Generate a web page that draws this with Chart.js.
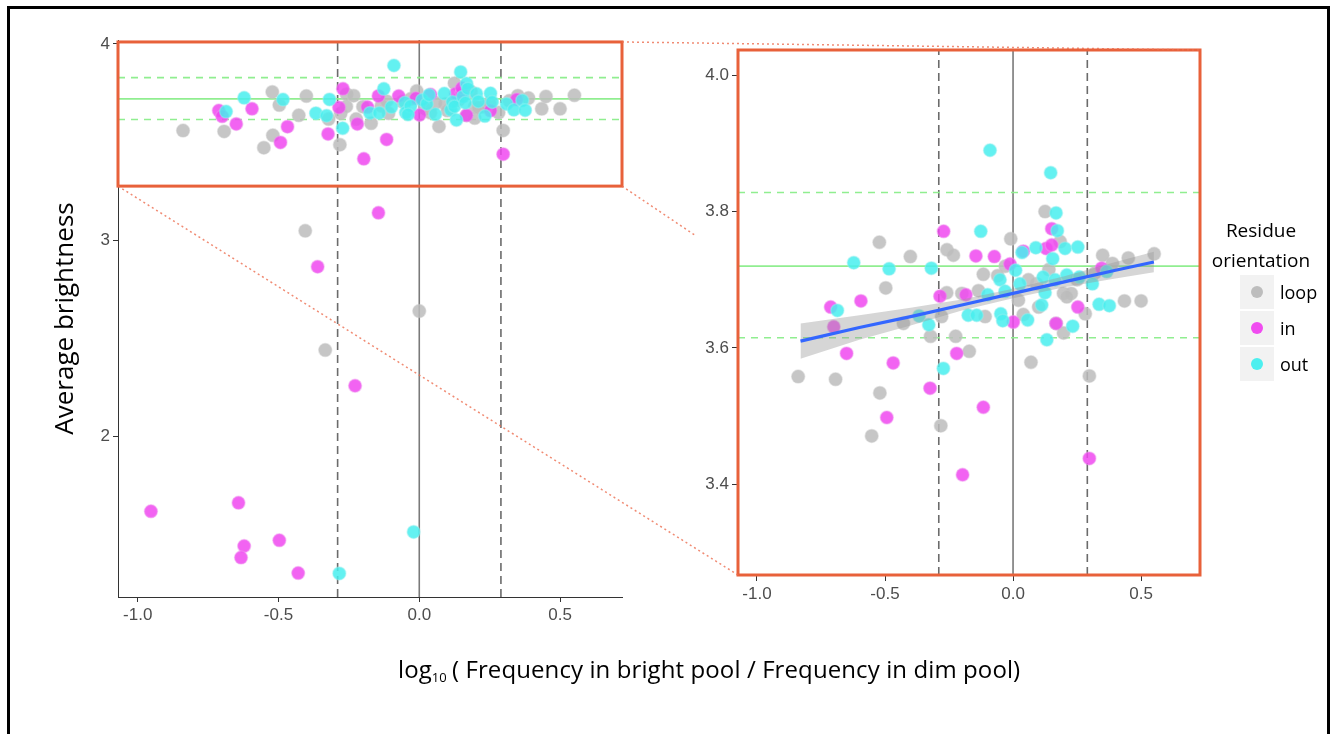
<!DOCTYPE html>
<html>
<head>
<meta charset="utf-8">
<script src="https://cdn.jsdelivr.net/npm/chart.js@4.4.0/dist/chart.umd.min.js"></script>
<style>
  html, body { margin: 0; padding: 0; background: #fff; }
  body { width: 1336px; height: 734px; position: relative; overflow: hidden; font-family: 'Open Sans', sans-serif; }
  .frame { position: absolute; left: 7px; top: 6px; width: 1317px; height: 780px; border: 3px solid #000; }
  #left-wrap { position: absolute; left: 50px; top: 0; }
  #right-wrap { position: absolute; left: 690px; top: 0; }
  #overlay { position: absolute; left: 0; top: 0; pointer-events: none; }
  .x-title { position: absolute; left: 398px; top: 652px; font-size: 24px; letter-spacing: 0.1px; color: #000; white-space: nowrap; }
  .x-title sub { font-size: 13px; vertical-align: -4px; margin-right: 5px; }
  .legend { position: absolute; left: 1204px; top: 215px; width: 114px; }
  .lg-title { text-align: center; font-size: 19px; line-height: 30px; color: #000; }
  .lg-row { display: flex; align-items: center; height: 34px; margin-left: 36px; margin-bottom: 2px; font-size: 18px; color: #000; }
  .lg-key { width: 34px; height: 34px; background: #f2f2f2; display: flex; align-items: center; justify-content: center; margin-right: 6px; }
  .lg-key i { width: 12px; height: 12px; border-radius: 50%; display: block; }
</style>
</head>
<body>
<div class="frame"></div>
<div id="left-wrap"><canvas id="leftChart" width="580" height="627"></canvas></div>
<div id="right-wrap"><canvas id="rightChart" width="520" height="605"></canvas></div>
<canvas id="overlay" width="1336" height="734"></canvas>
<div class="x-title">log<sub>10</sub>( Frequency in bright pool / Frequency in dim pool)</div>
<div class="legend" id="legend"><div class="lg-title">Residue<br>orientation</div></div>

<script>
/* Categories + colours */
const categories = ['loop', 'in', 'out'];
const pointFill = ['rgba(188,188,188,0.85)', 'rgba(240,72,240,0.85)', 'rgba(72,238,238,0.85)'];
const pointHalo = ['rgba(200,200,200,0.45)', 'rgba(240,150,240,0.45)', 'rgba(150,240,240,0.45)'];
const legendDot = ['#bdbdbd', '#f04cf0', '#4cefef'];

/* Points */
const loopX = [-0.839, -0.693, -0.552, -0.52, -0.522, -0.497, -0.428, -0.401, -0.282, -0.322, -0.279, -0.259,
  -0.258, -0.233, -0.224, -0.171, -0.135, -0.116, -0.109, -0.06, -0.009, 0.021, 0.04, 0.07, 0.092, 0.125,
  0.184, 0.197, 0.227, 0.197, 0.168, 0.282, 0.298, 0.35, 0.388, 0.435, 0.45, 0.5, 0.551, 0.21, 0.06, 0.14,
  -0.03, 0.32, 0.10, 0.25, -0.2, -0.405, 0.0, -0.334];
const loopY = [3.558, 3.554, 3.471, 3.534, 3.755, 3.688, 3.636, 3.734, 3.486, 3.617, 3.646, 3.681,
  3.744, 3.736, 3.617, 3.595, 3.684, 3.708, 3.646, 3.706, 3.760, 3.670, 3.649, 3.579, 3.694, 3.80,
  3.756, 3.68, 3.680, 3.622, 3.636, 3.650, 3.559, 3.736, 3.724, 3.669, 3.732, 3.669, 3.738, 3.675, 3.70, 3.715,
  3.72, 3.71, 3.66, 3.70, 3.68, 3.047, 2.638, 2.439];

const inX = [-0.712, -0.70, -0.594, -0.65, -0.468, -0.493, -0.324, -0.271, -0.285, -0.22, -0.197, -0.184,
  -0.145, -0.116, -0.073, -0.012, 0.001, 0.040, 0.129, 0.151, 0.151, 0.168, 0.253, 0.298, 0.346,
  -0.145, -0.361, -0.228, -0.953, -0.642, -0.622, -0.633, -0.497, -0.43];
const inY = [3.66, 3.631, 3.669, 3.592, 3.578, 3.498, 3.541, 3.771, 3.676, 3.592, 3.414, 3.678,
  3.735, 3.513, 3.734, 3.723, 3.638, 3.742, 3.746, 3.751, 3.775, 3.636, 3.66, 3.438, 3.717,
  3.139, 2.864, 2.257, 1.617, 1.66, 1.44, 1.381, 1.469, 1.302];

const outX = [-0.686, -0.622, -0.484, -0.367, -0.329, -0.319, -0.272, -0.175, -0.142, -0.126, -0.099, -0.09,
  -0.051, -0.048, -0.031, 0.01, 0.027, 0.035, 0.057, 0.089, 0.112, 0.118, 0.125, 0.132, 0.147, 0.155,
  0.164, 0.168, 0.173, 0.203, 0.21, 0.233, 0.253, 0.259, 0.31, 0.336, 0.366, 0.376, -0.04,
  -0.02, -0.284];
const outY = [3.655, 3.725, 3.716, 3.647, 3.634, 3.717, 3.570, 3.648, 3.648, 3.771, 3.678, 3.89,
  3.70, 3.65, 3.683, 3.714, 3.694, 3.74, 3.641, 3.747, 3.663, 3.704, 3.681, 3.612, 3.857, 3.731,
  3.70, 3.798, 3.772, 3.746, 3.707, 3.632, 3.748, 3.704, 3.694, 3.664, 3.712, 3.662, 3.64,
  1.512, 1.30];

/* Linear fit + confidence band (zoomed panel only) */
const fitX   = [-0.83, -0.6, -0.4, -0.2, 0.0, 0.2, 0.4, 0.55];
const fitY   = [3.610, 3.630, 3.646, 3.663, 3.680, 3.697, 3.714, 3.726];
const bandHi = [3.636, 3.648, 3.659, 3.671, 3.687, 3.705, 3.726, 3.741];
const bandLo = [3.584, 3.612, 3.633, 3.655, 3.673, 3.689, 3.702, 3.711];

/* Reference lines */
const dashedX = [-0.29, 0.29];
const zeroX = 0;
const meanY = 3.72;
const sdY = [3.615, 3.828];

/* Ticks */
const xTicks = [-1.0, -0.5, 0.0, 0.5];
const leftYTicks = [2, 3, 4];
const rightYTicks = [3.4, 3.6, 3.8, 4.0];

/* Axis ranges */
const L_X = [-1.07, 0.72], L_Y = [1.18, 4.02];
const R_X = [-1.074, 0.73], R_Y = [3.267, 4.037];
const BOX_Y = [3.275, 4.01];

const ORANGE = '#e8613a';
const tickFont = { family: 'Liberation Sans', size: 17 };

/* Utils */
const pts = (xs, ys) => xs.map((x, i) => ({ x, y: ys[i] }));
const seriesX = [loopX, inX, outX];
const seriesY = [loopY, inY, outY];

function refLine(data, color, dash, width, order) {
  return { type: 'line', data, borderColor: color, borderDash: dash, borderWidth: width,
    pointRadius: 0, fill: false, order, tension: 0 };
}

function buildDatasets(xr, yr, withFit) {
  const ds = [];
  dashedX.forEach(x => ds.push(refLine([{ x, y: yr[0] }, { x, y: yr[1] }], '#6b6b6b', [8, 5], 1.6, 20)));
  ds.push(refLine([{ x: zeroX, y: yr[0] }, { x: zeroX, y: yr[1] }], '#7a7a7a', [], 1.6, 20));
  ds.push(refLine([{ x: xr[0], y: meanY }, { x: xr[1], y: meanY }], '#90ee90', [], 1.6, 19));
  sdY.forEach(y => ds.push(refLine([{ x: xr[0], y }, { x: xr[1], y }], '#90ee90', [7, 6], 1.6, 19)));

  categories.forEach((c, i) => {
    const data = pts(seriesX[i], seriesY[i]).filter(p => p.y >= yr[0] && p.y <= yr[1]);
    ds.push({ type: 'scatter', label: c, data, order: 10 - i,
      pointRadius: 6.5, pointBackgroundColor: pointFill[i], pointBorderColor: pointHalo[i], pointBorderWidth: 1.5 });
  });

  if (withFit) {
    ds.push({ type: 'line', data: pts(fitX, bandHi), borderWidth: 0, pointRadius: 0,
      backgroundColor: 'rgba(153,153,153,0.4)', fill: '+1', order: 2 });
    ds.push({ type: 'line', data: pts(fitX, bandLo), borderWidth: 0, pointRadius: 0, fill: false, order: 2 });
    ds.push({ type: 'line', data: pts(fitX, fitY), borderColor: '#3366ff', borderWidth: 3.2,
      pointRadius: 0, fill: false, order: 1 });
  }
  return ds;
}

function axis(range, ticks, fmt, extra) {
  return Object.assign({
    type: 'linear', min: range[0], max: range[1],
    afterBuildTicks: s => { s.ticks = ticks.map(v => ({ value: v })); },
    grid: { display: true, drawOnChartArea: false, drawTicks: true, tickLength: 5, color: '#333' },
    border: { display: true, color: '#333', width: 1 },
    ticks: { font: tickFont, color: '#4d4d4d', padding: 3, autoSkip: false, maxRotation: 0, callback: fmt }
  }, extra);
}

/* Plugins */
const zoomBox = {
  id: 'zoomBox',
  afterDatasetsDraw(chart) {
    const { ctx, chartArea, scales } = chart;
    const top = scales.y.getPixelForValue(BOX_Y[1]);
    const bottom = scales.y.getPixelForValue(BOX_Y[0]);
    ctx.save();
    ctx.strokeStyle = ORANGE; ctx.lineWidth = 3;
    ctx.strokeRect(chartArea.left, top, chartArea.right - chartArea.left, bottom - top);
    ctx.restore();
  }
};

const panelBorder = {
  id: 'panelBorder',
  beforeDraw(chart) {
    const { ctx, chartArea } = chart;
    ctx.save(); ctx.fillStyle = '#fff';
    ctx.fillRect(chartArea.left, chartArea.top, chartArea.right - chartArea.left, chartArea.bottom - chartArea.top);
    ctx.restore();
  },
  afterDatasetsDraw(chart) {
    const { ctx, chartArea } = chart;
    ctx.save();
    ctx.strokeStyle = ORANGE; ctx.lineWidth = 3;
    ctx.strokeRect(chartArea.left, chartArea.top, chartArea.right - chartArea.left, chartArea.bottom - chartArea.top);
    ctx.restore();
  }
};

const common = {
  responsive: false, animation: false,
  plugins: { legend: { display: false }, tooltip: { enabled: false } }
};

/* Left: full range */
const leftChart = new Chart(document.getElementById('leftChart'), {
  type: 'scatter',
  data: { datasets: buildDatasets(L_X, L_Y, false) },
  options: Object.assign({}, common, {
    layout: { padding: { top: 40, right: 7, left: 0, bottom: 0 } },
    scales: {
      x: axis(L_X, xTicks, v => v.toFixed(1), { afterFit: s => { s.height = 30; } }),
      y: axis(L_Y, leftYTicks, v => String(v), {
        afterFit: s => { s.width = 68; },
        title: { display: true, text: 'Average brightness', color: '#000',
          font: { family: 'Open Sans', size: 26 }, padding: { top: 0, bottom: 0 } }
      })
    }
  }),
  plugins: [zoomBox]
});

/* Right: zoomed panel */
const rightAxis = (r, t, f, extra) => {
  const a = axis(r, t, f, extra);
  a.border = { display: false };
  a.grid.tickLength = 6;
  return a;
};
const rightChart = new Chart(document.getElementById('rightChart'), {
  type: 'scatter',
  data: { datasets: buildDatasets(R_X, R_Y, true) },
  options: Object.assign({}, common, {
    layout: { padding: { top: 50, right: 10, left: 0, bottom: 0 } },
    scales: {
      x: rightAxis(R_X, xTicks, v => v.toFixed(1), { afterFit: s => { s.height = 30; } }),
      y: rightAxis(R_Y, rightYTicks, v => v.toFixed(1), { afterFit: s => { s.width = 48; } })
    }
  }),
  plugins: [panelBorder]
});

/* Dotted connectors between box and panel */
(function drawConnectors() {
  const ctx = document.getElementById('overlay').getContext('2d');
  const lw = document.getElementById('left-wrap'), rw = document.getElementById('right-wrap');
  const la = leftChart.chartArea, ra = rightChart.chartArea;
  const L = {
    left: lw.offsetLeft + la.left, right: lw.offsetLeft + la.right,
    top: lw.offsetTop + leftChart.scales.y.getPixelForValue(BOX_Y[1]),
    bottom: lw.offsetTop + leftChart.scales.y.getPixelForValue(BOX_Y[0])
  };
  const R = { left: rw.offsetLeft + ra.left, right: rw.offsetLeft + ra.right,
    top: rw.offsetTop + ra.top, bottom: rw.offsetTop + ra.bottom };
  const seg = (x1, y1, x2, y2) => { ctx.beginPath(); ctx.moveTo(x1, y1); ctx.lineTo(x2, y2); ctx.stroke(); };
  ctx.strokeStyle = 'rgba(236,110,80,0.8)'; ctx.lineWidth = 1.5; ctx.setLineDash([2, 3]);
  seg(L.right, L.top, R.right, R.top);
  seg(L.left, L.bottom, R.left, R.bottom);
  ctx.save();
  ctx.beginPath(); ctx.rect(0, 0, R.left - 43, 734); ctx.clip();
  seg(L.right, L.bottom, R.right, R.bottom);
  ctx.restore();
})();

/* Legend */
const legend = document.getElementById('legend');
categories.forEach((c, i) => {
  const row = document.createElement('div');
  row.className = 'lg-row';
  row.innerHTML = `<span class="lg-key"><i style="background:${legendDot[i]}"></i></span>${c}`;
  legend.appendChild(row);
});
</script>
</body>
</html>
